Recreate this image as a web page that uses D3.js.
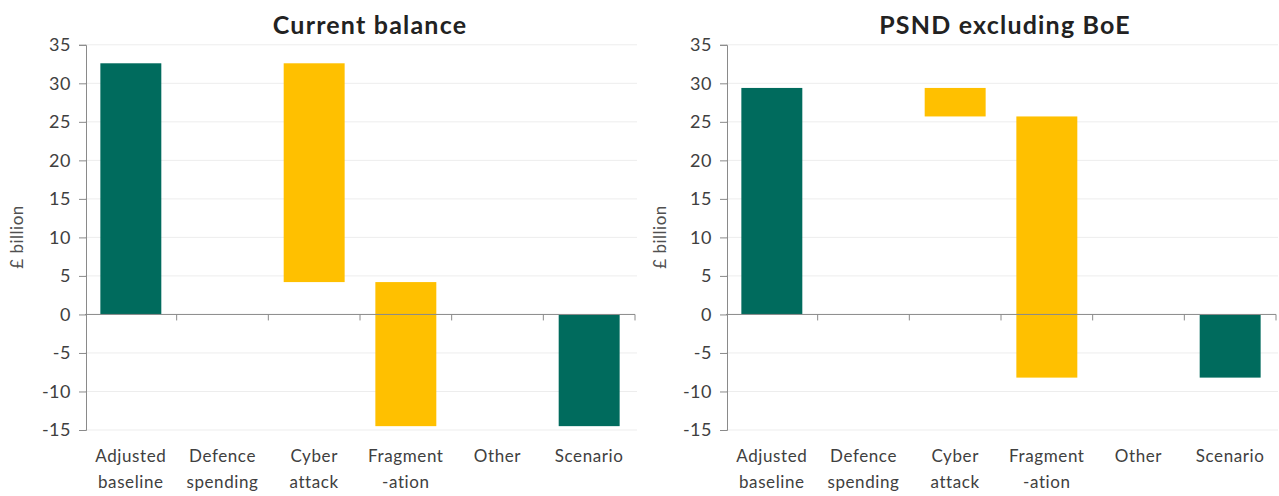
<!DOCTYPE html>
<html>
<head>
<meta charset="utf-8">
<script src="https://cdn.jsdelivr.net/npm/d3@7"></script>
<style>
  body { margin: 0; background: #fff; }
  svg { display: block; font-family: Lato, "Noto Sans", sans-serif; }
</style>
</head>
<body>
<svg id="chart" width="1279" height="496"></svg>
<script>
// categories (two-line labels)
const categories = ['Adjusted baseline', 'Defence spending', 'Cyber attack', 'Fragmentation', 'Other', 'Scenario']
const labelLines = [['Adjusted', 'baseline'], ['Defence', 'spending'], ['Cyber', 'attack'], ['Fragment', '-ation'], ['Other', ''], ['Scenario', '']]
const kinds = ['total', 'step', 'step', 'step', 'step', 'total']

// £ billion
const currentBalance = [32.6, 0, -28.4, -18.7, 0, -14.5]
const psndExBoe = [29.4, 0, -3.7, -33.9, 0, -8.2]

const yTicks = [-15, -10, -5, 0, 5, 10, 15, 20, 25, 30, 35]

const panels = [
  { title: 'Current balance', values: currentBalance, x0: 85, x1: 635, titleX: 370, labelX: 17 },
  { title: 'PSND excluding BoE', values: psndExBoe, x0: 726, x1: 1276, titleX: 1005, labelX: 660 }
]

const teal = '#006b5d'
const gold = '#ffc000'

const svg = d3.select('#chart')

const y = d3.scaleLinear()
    .domain([-15, 35])
    .range([430, 44.8])

function waterfall(values) {
  // turn the step values into start/end pairs
  let running = 0
  return values.map((v, i) => {
    if (kinds[i] === 'total') {
      running = v
      return { cat: categories[i], from: 0, to: v, kind: 'total' }
    }
    const from = running
    running += v
    return { cat: categories[i], from: from, to: running, kind: 'step' }
  })
}

panels.forEach(p => {
  const g = svg.append('g')

  const x = d3.scaleBand()
      .domain(categories)
      .range([p.x0, p.x1])
      .paddingInner(0.335)
      .paddingOuter(0.1675)

  // right edge of each category slot
  const slotEnd = d => x(d) - x.paddingInner() * x.step() / 2 + x.step()

  // faint gridlines
  g.append('g')
    .selectAll('line')
    .data(yTicks.filter(d => d !== 0))
    .join('line')
      .attr('x1', p.x0)
      .attr('x2', p.x1 + 2)
      .attr('y1', d => y(d))
      .attr('y2', d => y(d))
      .attr('stroke', '#ededed')
      .attr('stroke-width', 1)

  // bars
  g.append('g')
    .selectAll('rect')
    .data(waterfall(p.values))
    .join('rect')
      .attr('x', d => x(d.cat))
      .attr('width', x.bandwidth())
      .attr('y', d => y(Math.max(d.from, d.to)))
      .attr('height', d => Math.abs(y(d.from) - y(d.to)))
      .attr('fill', d => d.kind === 'total' ? teal : gold)

  // zero line with ticks between categories
  g.append('line')
      .attr('x1', p.x0)
      .attr('x2', p.x1)
      .attr('y1', y(0))
      .attr('y2', y(0))
      .attr('stroke', '#8a8a8a')
      .attr('stroke-width', 1)

  g.append('g')
    .selectAll('line')
    .data(categories)
    .join('line')
      .attr('x1', slotEnd)
      .attr('x2', slotEnd)
      .attr('y1', y(0))
      .attr('y2', y(0) + 6)
      .attr('stroke', '#8a8a8a')

  // y axis
  const yAxis = g.append('g')
      .attr('transform', `translate(${p.x0 + 1},0)`)
      .call(d3.axisLeft(y).tickValues(yTicks).tickSize(7).tickPadding(8).tickFormat(d => String(d)))
  yAxis.select('.domain').attr('stroke', '#8a8a8a')
  yAxis.selectAll('.tick line').attr('stroke', '#8a8a8a')
  yAxis.selectAll('.tick text')
      .attr('fill', '#404040')
      .style('font-size', '18px')
      .style('letter-spacing', '0.5px')
      .style('font-family', 'Lato, sans-serif')

  // category labels
  const lab = g.append('g')
    .selectAll('text')
    .data(categories)
    .join('text')
      .attr('x', d => x(d) + x.bandwidth() / 2)
      .attr('text-anchor', 'middle')
      .attr('fill', '#404040')
      .style('font-size', '17px')
      .style('letter-spacing', '0.6px')
  lab.append('tspan')
      .attr('x', d => x(d) + x.bandwidth() / 2)
      .attr('y', 462)
      .text((d, i) => labelLines[i][0])
  lab.append('tspan')
      .attr('x', d => x(d) + x.bandwidth() / 2)
      .attr('y', 488)
      .text((d, i) => labelLines[i][1])

  // y label
  svg.append('text')
      .attr('transform', `translate(${p.labelX + 6},237) rotate(-90)`)
      .attr('text-anchor', 'middle')
      .attr('fill', '#505050')
      .style('font-size', '17px')
      .style('letter-spacing', '0.5px')
      .text('£ billion')

  // title
  svg.append('text')
      .attr('x', p.titleX)
      .attr('y', 34)
      .attr('text-anchor', 'middle')
      .attr('fill', '#222')
      .style('font-size', '25px')
      .style('font-weight', 'bold')
      .style('letter-spacing', '1.2px')
      .text(p.title)
})
</script>
</body>
</html>
